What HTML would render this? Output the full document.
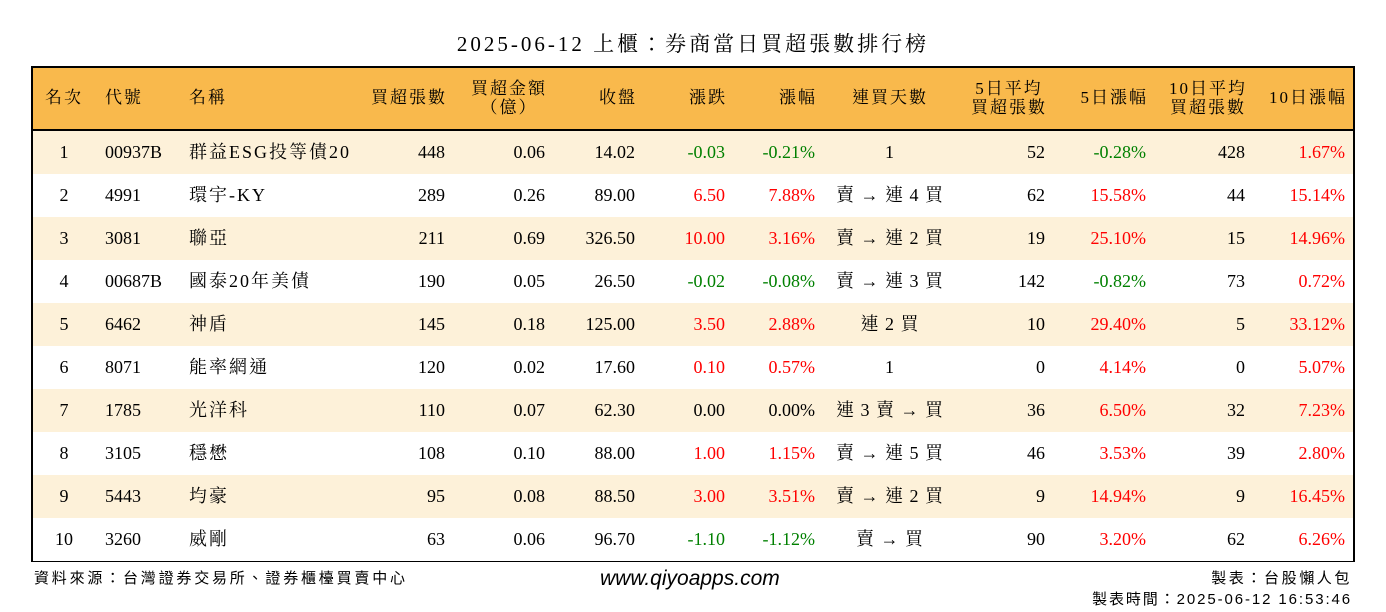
<!DOCTYPE html>
<html><head><meta charset="utf-8"><style>
body{margin:0;width:1386px;height:612px;background:#fff;position:relative;overflow:hidden;font-family:"Liberation Serif","Noto Serif CJK TC","Noto Serif CJK SC",serif;color:#000}
.t{position:absolute;white-space:nowrap}
#title{left:0;width:1386px;top:28px;text-align:center;font-size:21px;letter-spacing:3px}
#tbl{position:absolute;left:31px;top:66px;width:1320px;height:492px;border:2px solid #000}
#hdr{position:absolute;left:0;top:0;width:1320px;height:61px;background:#f9b94c;border-bottom:2px solid #000}
.row{position:absolute;left:0;width:1320px;height:43px}
.c{position:absolute;white-space:nowrap;font-size:18px;line-height:43px}
.h{position:absolute;white-space:nowrap;font-size:17px;line-height:19px;letter-spacing:2px;text-align:center}
.r{text-align:right}.g{color:#008000}.red{color:#f00}
.foot{position:absolute;font-size:15px;white-space:nowrap;font-family:"Liberation Sans","Noto Sans CJK TC",sans-serif}
</style></head><body>
<div id="title" class="t">2025-06-12 上櫃：券商當日買超張數排行榜</div>
<div id="tbl">
<div id="hdr"></div>
</div>
<div class="foot" style="left:34px;top:567px;letter-spacing:2.8px">資料來源：台灣證券交易所、證券櫃檯買賣中心</div>
<div class="foot" style="left:600px;top:567px;font-style:italic;font-size:21px">www.qiyoapps.com</div>
<div class="foot" style="right:34px;top:567px;letter-spacing:2.6px">製表：台股懶人包</div>
<div class="foot" style="right:34px;top:588px;letter-spacing:1.9px">製表時間：2025-06-12 16:53:46</div>
<script>
const headers=["名次","代號","名稱","買超張數","買超金額<br>（億）","收盤","漲跌","漲幅","連買天數","5日平均<br>買超張數","5日漲幅","10日平均<br>買超張數","10日漲幅"];
const ranks=["1","2","3","4","5","6","7","8","9","10"];
const codes=["00937B","4991","3081","00687B","6462","8071","1785","3105","5443","3260"];
const names=["群益ESG投等債20","環宇-KY","聯亞","國泰20年美債","神盾","能率網通","光洋科","穩懋","均豪","威剛"];
const buyVol=[448,289,211,190,145,120,110,108,95,63];
const buyAmt=["0.06","0.26","0.69","0.05","0.18","0.02","0.07","0.10","0.08","0.06"];
const closes=["14.02","89.00","326.50","26.50","125.00","17.60","62.30","88.00","88.50","96.70"];
const changes=["-0.03","6.50","10.00","-0.02","3.50","0.10","0.00","1.00","3.00","-1.10"];
const pcts=["-0.21%","7.88%","3.16%","-0.08%","2.88%","0.57%","0.00%","1.15%","3.51%","-1.12%"];
const streaks=["1","賣 → 連 4 買","賣 → 連 2 買","賣 → 連 3 買","連 2 買","1","連 3 賣 → 買","賣 → 連 5 買","賣 → 連 2 買","賣 → 買"];
const avg5=[52,62,19,142,10,0,36,46,9,90];
const pct5=["-0.28%","15.58%","25.10%","-0.82%","29.40%","4.14%","6.50%","3.53%","14.94%","3.20%"];
const avg10=[428,44,15,73,5,0,32,39,9,62];
const pct10=["1.67%","15.14%","14.96%","0.72%","33.12%","5.07%","7.23%","2.80%","16.45%","6.26%"];
const cols=[[31,"center","rank"],[72,"left","code"],[156,"left","name"],[412,"right","buy-volume"],[512,"right","buy-amount"],[602,"right","close"],[692,"right","change"],[782,"right","change-pct"],[857,"center","streak"],[1012,"right","avg5"],[1113,"right","pct5"],[1212,"right","avg10"],[1312,"right","pct10"]];
const tbl=document.getElementById('tbl');
function place(el,col,w){const [x,a]=col;if(a==="left"){el.style.left=x+"px";}else if(a==="right"){el.style.right=(1320-x)+"px";el.style.textAlign="right";}else{el.style.left=(x-w/2)+"px";el.style.width=w+"px";el.style.textAlign="center";}}
headers.forEach((h,i)=>{const d=document.createElement('div');d.className='h';d.innerHTML=h;


const two=h.includes('<br>');d.style.top=(two?11:20)+"px";
place(d,cols[i],140);
if(cols[i][1]==="right"){d.style.right=(1320-cols[i][0]-2)+"px";}
if(cols[i][1]==="right"&&two){d.style.textAlign="center";}
tbl.appendChild(d);});
function color(v){return v.startsWith('-')?'g':(parseFloat(v)>0?'red':'');}
for(let r=0;r<10;r++){const row=document.createElement('div');row.className='row';


row.style.top=(63+r*43)+"px";row.style.background=r%2===0?'#fdf1d9':'#fff';
const vals=[ranks[r],codes[r],names[r],String(buyVol[r]),buyAmt[r],closes[r],changes[r],pcts[r],streaks[r],String(avg5[r]),pct5[r],String(avg10[r]),pct10[r]];
vals.forEach((v,i)=>{const c=document.createElement('div');c.className='c';c.textContent=v;


place(c,cols[i],160);
if(i===2)c.style.letterSpacing="2px";
if(i===8)c.style.letterSpacing="1px";
if([6,7,10,12].includes(i)){const k=color(v);if(k)c.classList.add(k);}
row.appendChild(c);});
tbl.appendChild(row);}
</script>
</body></html>
